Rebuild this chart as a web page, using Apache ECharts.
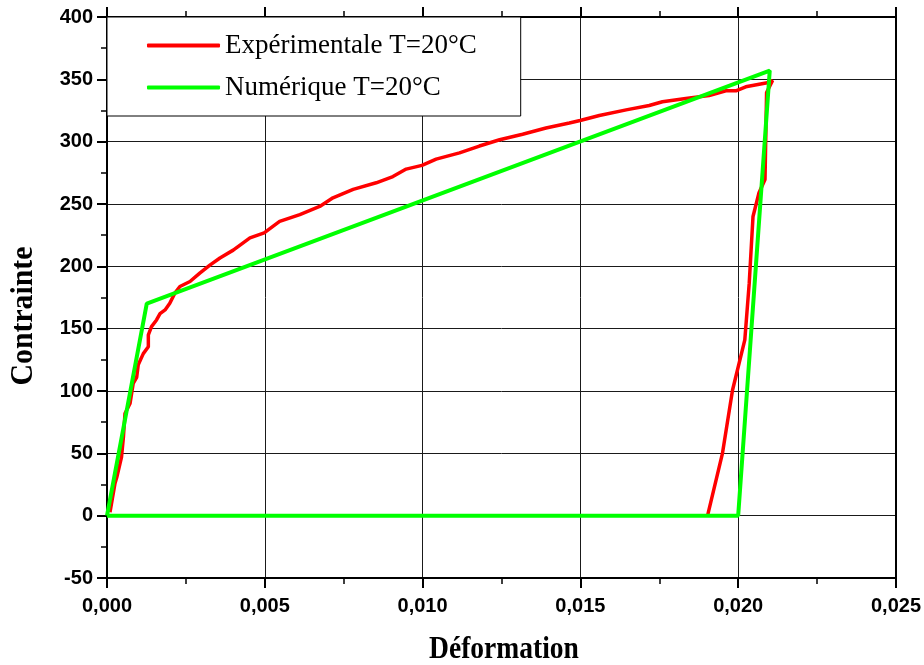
<!DOCTYPE html>
<html>
<head>
<meta charset="utf-8">
<script src="https://cdn.jsdelivr.net/npm/echarts@6/dist/echarts.min.js"></script>
<style>
html,body{margin:0;padding:0;background:#fff;}
#chart{width:924px;height:665px;}
</style>
</head>
<body>
<div id="chart"></div>
<script>
// Experimental curve (strain, stress)
var expStrain = [0.000095,0.00025,0.00031,0.00046,0.00052,0.00057,0.00073,0.00083,0.00094,0.00099,0.00115,0.00131,0.00131,0.00141,0.00157,0.00168,0.00184,0.00199,0.00215,0.00231,0.00263,0.00294,0.00326,0.00358,0.0040,0.00453,0.00498,0.00547,0.00611,0.00674,0.00716,0.0078,0.00853,0.00906,0.00948,0.00998,0.01043,0.01117,0.0118,0.01244,0.01317,0.01391,0.01465,0.01499,0.0156,0.01645,0.01718,0.0176,0.01834,0.01908,0.01961,0.01993,0.02024,0.02088,0.02109,0.0209,0.02085,0.02066,0.02047,0.02035,0.02021,0.01982,0.0195,0.01903];
var expStress = [2.7,25.5,30.8,47,63,82,90,106,111,121,130,135.5,145,151.6,157,162,165,170.4,178.5,183.8,187.8,194.6,201,206.7,213,222.8,226.8,236,241.5,248,255,261.7,267,272,278,281,286,291,296.5,301.5,306,311,315,317,321,325.5,329,332,334.7,337,340.8,340.8,344,347,349,339.5,269.7,259,240,186.5,141,100.6,49.7,0];
// Numerical curve
var numStrain = [0,0.00126,0.0210,0.0200,0];
var numStress = [0,170,357,0,0];
var seriesNames = ['Expérimentale T=20°C','Numérique T=20°C'];
var xTicks = {min:0,max:0.025,interval:0.005};
var yTicks = {min:-50,max:400,interval:50};

function zip(a,b){var r=[];for(var i=0;i<a.length;i++)r.push([a[i],b[i]]);return r;}

var chart = echarts.init(document.getElementById('chart'));
var axLine = {show:true,onZero:false,lineStyle:{color:'#000',width:2}};
var grid = {left:107,right:28,top:17,bottom:87,containLabel:false};
var option = {
  animation:false,
  backgroundColor:'#fff',
  grid:grid,
  legend:{
    data:seriesNames,
    orient:'vertical',
    left:107,top:17,
    padding:[15,44,15,40],
    itemGap:15,
    icon:'roundRect',
    itemWidth:73,itemHeight:4,
    backgroundColor:'#fff',
    borderColor:'#000',borderWidth:1,
    textStyle:{fontFamily:'Liberation Serif',fontSize:27,color:'#000',lineHeight:26}
  },
  xAxis:[{
    type:'value',position:'bottom',min:xTicks.min,max:xTicks.max,interval:xTicks.interval,
    axisLine:axLine,
    axisTick:{show:true,inside:false,length:10,lineStyle:{color:'#000',width:2}},
    minorTick:{show:true,splitNumber:2,length:6,lineStyle:{color:'#000',width:1.5}},
    splitLine:{show:true,lineStyle:{color:'#1a1a1a',width:1}},
    axisLabel:{margin:18,color:'#000',fontFamily:'Liberation Sans',fontWeight:'bold',fontSize:20,
      formatter:function(v){return v.toFixed(3).replace('.',',');}}
  },{
    type:'value',position:'top',min:xTicks.min,max:xTicks.max,interval:xTicks.interval,
    axisLine:axLine,
    axisTick:{show:true,inside:false,length:10,lineStyle:{color:'#000',width:2}},
    minorTick:{show:true,splitNumber:2,length:6,lineStyle:{color:'#000',width:1.5}},
    splitLine:{show:false},axisLabel:{show:false}
  }],
  yAxis:[{
    type:'value',position:'left',min:yTicks.min,max:yTicks.max,interval:yTicks.interval,
    axisLine:axLine,
    axisTick:{show:true,inside:false,length:10,lineStyle:{color:'#000',width:2}},
    minorTick:{show:true,splitNumber:2,length:6,lineStyle:{color:'#000',width:1.5}},
    splitLine:{show:true,lineStyle:{color:'#1a1a1a',width:1}},
    axisLabel:{margin:14,color:'#000',fontFamily:'Liberation Sans',fontWeight:'bold',fontSize:20}
  },{
    type:'value',position:'right',min:yTicks.min,max:yTicks.max,interval:yTicks.interval,
    axisLine:axLine,axisTick:{show:false},splitLine:{show:false},axisLabel:{show:false}
  }],
  graphic:[
    {type:'text',style:{text:'Déformation',font:'bold 32px "Liberation Serif"',fill:'#000',textAlign:'center',textVerticalAlign:'middle'},
     x:504,y:650,scaleX:0.86},
    {type:'text',style:{text:'Contrainte',font:'bold 32px "Liberation Serif"',fill:'#000',textAlign:'center',textVerticalAlign:'middle'},
     x:24,y:316,rotation:Math.PI/2,scaleX:0.93}
  ],
  series:[{
    name:seriesNames[0],type:'line',data:zip(expStrain,expStress),
    showSymbol:false,symbol:'none',z:2,
    lineStyle:{color:'#ff0000',width:3.5},itemStyle:{color:'#ff0000'}
  },{
    name:seriesNames[1],type:'line',data:zip(numStrain,numStress),
    showSymbol:false,symbol:'none',z:3,
    lineStyle:{color:'#00ff00',width:4},itemStyle:{color:'#00ff00'}
  }]
};
chart.setOption(option);
</script>
</body>
</html>
